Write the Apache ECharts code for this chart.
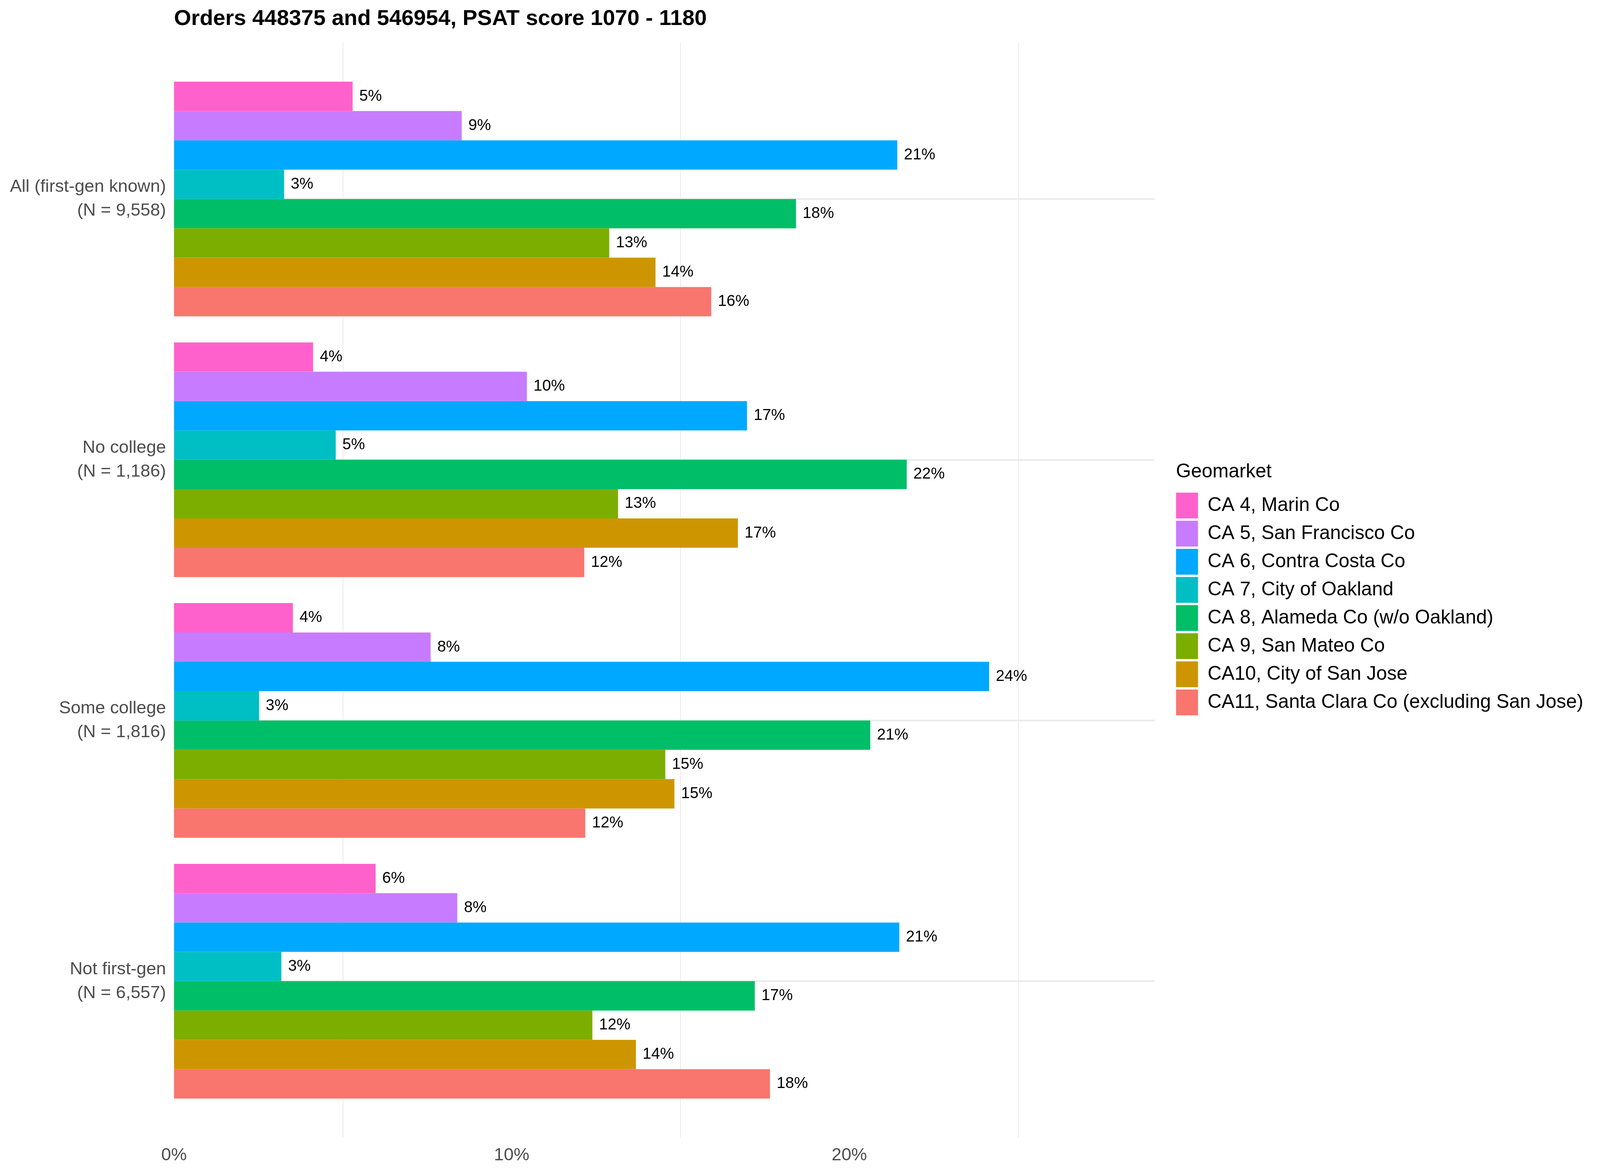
<!DOCTYPE html>
<html>
<head>
<meta charset="utf-8">
<script src="https://cdn.jsdelivr.net/npm/echarts@6/dist/echarts.min.js"></script>
<style>html,body{margin:0;padding:0;background:#fff;overflow:hidden}#c{width:100vw;height:100vh}</style>
</head>
<body>
<div id="c"></div>
<script>
// ---- data ----
const categories = [
  'All (first-gen known)\n(N = 9,558)',
  'No college\n(N = 1,186)',
  'Some college\n(N = 1,816)',
  'Not first-gen\n(N = 6,557)'
];
const geomarkets = [
  'CA 4, Marin Co',
  'CA 5, San Francisco Co',
  'CA 6, Contra Costa Co',
  'CA 7, City of Oakland',
  'CA 8, Alameda Co (w/o Oakland)',
  'CA 9, San Mateo Co',
  'CA10, City of San Jose',
  'CA11, Santa Clara Co (excluding San Jose)'
];
const ca4  = [5.29, 4.12, 3.52, 5.97];
const ca5  = [8.52, 10.45, 7.60, 8.39];
const ca6  = [21.42, 16.97, 24.14, 21.48];
const ca7  = [3.26, 4.79, 2.52, 3.18];
const ca8  = [18.42, 21.70, 20.62, 17.20];
const ca9  = [12.89, 13.15, 14.55, 12.39];
const ca10 = [14.26, 16.70, 14.82, 13.68];
const ca11 = [15.91, 12.15, 12.18, 17.65];
const xTickValues = [0, 10, 20];
const colors = ['#FF61CC', '#C77CFF', '#00A9FF', '#00BFC4', '#00BE67', '#7CAE00', '#CD9600', '#F8766D'];

// ---- layout: designed on a 4800x3000 canvas, mapped onto the actual viewport ----
const el = document.getElementById('c');
const W = el.clientWidth || window.innerWidth;
const H = el.clientHeight || window.innerHeight;
const sx = W / 4800, sy = H / 3000;
const X = v => v * sx, Y = v => v * sy, F = v => v * sx;
const FONT = "'Liberation Sans', Arial, Helvetica, sans-serif";
const PANEL_TOP = 109, PANEL_BOTTOM = 2912;
const BAND = (PANEL_BOTTOM - PANEL_TOP) / 4.2;
const LEFT = 522, PX_PER_PCT = 101.3, XMAX = 29.04;
const G0_TOP = PANEL_TOP + 0.1 * BAND;
const G0_H = 4 * BAND;

const seriesValues = [ca4, ca5, ca6, ca7, ca8, ca9, ca10, ca11];

const chart = echarts.init(el, null, {renderer: 'canvas'});

const barSeries = geomarkets.map((name, i) => ({
  name: name,
  type: 'bar',
  xAxisIndex: 0,
  yAxisIndex: 0,
  data: seriesValues[i],
  barGap: '0%',
  barCategoryGap: '10%',
  z: 2,
  itemStyle: {color: colors[i]},
  emphasis: {disabled: true},
  label: {
    show: true,
    position: 'right',
    distance: X(20),
    fontSize: F(47),
    color: '#000000',
    fontFamily: FONT,
    formatter: p => Math.round(p.value) + '%'
  }
}));

const gridLineSeries = {
  name: 'gridlines',
  type: 'line',
  xAxisIndex: 0,
  yAxisIndex: 0,
  data: [],
  z: 1,
  silent: true,
  markLine: {
    z: 1,
    silent: true,
    symbol: ['none', 'none'],
    label: {show: false},
    emphasis: {disabled: true},
    lineStyle: {color: '#EBEBEB', width: Y(4.5), type: 'solid'},
    data: categories.map(c => ({yAxis: c}))
  }
};

chart.setOption({
  animation: false,
  backgroundColor: '#ffffff',
  textStyle: {fontFamily: FONT},
  title: [
    {
      text: 'Orders 448375 and 546954, PSAT score 1070 - 1180',
      left: X(LEFT), top: Y(48) - Y(38), padding: 0,
      textStyle: {fontSize: F(66), fontWeight: 'bold', color: '#000000', lineHeight: Y(76), fontFamily: FONT}
    },
    {
      text: 'Geomarket',
      left: X(3528), top: Y(1208) - Y(35), padding: 0,
      textStyle: {fontSize: F(58), fontWeight: 'normal', color: '#000000', lineHeight: Y(70), fontFamily: FONT}
    }
  ],
  legend: {
    data: geomarkets,
    orient: 'vertical',
    left: X(3528), top: Y(1261),
    padding: 0,
    itemWidth: X(66), itemHeight: Y(66), itemGap: Y(6),
    icon: 'rect',
    selectedMode: false,
    textStyle: {fontSize: F(58), color: '#000000', fontFamily: FONT, lineHeight: Y(66), padding: [0, 0, 0, X(23)]}
  },
  grid: [
    {left: X(LEFT), top: Y(G0_TOP), width: X(XMAX * PX_PER_PCT), height: Y(G0_H), containLabel: false},
    {left: X(LEFT), top: Y(PANEL_TOP), width: X(30 * PX_PER_PCT), height: Y(PANEL_BOTTOM - PANEL_TOP), containLabel: false}
  ],
  xAxis: [
    {
      gridIndex: 0, type: 'value', min: 0, max: XMAX, interval: 10,
      axisLine: {show: false}, axisTick: {show: false}, splitLine: {show: false},
      axisLabel: {
        color: '#4D4D4D', fontSize: F(53), lineHeight: Y(60), margin: Y(82), fontFamily: FONT,
        showMaxLabel: false,
        formatter: v => xTickValues.indexOf(v) >= 0 ? v + '%' : ''
      }
    },
    {
      gridIndex: 1, type: 'value', min: 0, max: 30, interval: 10,
      axisLine: {show: false}, axisTick: {show: false}, axisLabel: {show: false},
      splitLine: {show: false},
      minorTick: {show: false, splitNumber: 2},
      minorSplitLine: {show: true, lineStyle: {color: '#EBEBEB', width: X(2.3)}}
    }
  ],
  yAxis: [
    {
      gridIndex: 0, type: 'category', data: categories, inverse: true,
      axisLine: {show: false}, axisTick: {show: false}, splitLine: {show: false},
      axisLabel: {color: '#4D4D4D', fontSize: F(53), lineHeight: Y(61), margin: X(24), align: 'right', fontFamily: FONT}
    },
    {
      gridIndex: 1, type: 'value', min: 0, max: 1, show: false
    }
  ],
  series: [gridLineSeries].concat(barSeries)
});
</script>
</body>
</html>
